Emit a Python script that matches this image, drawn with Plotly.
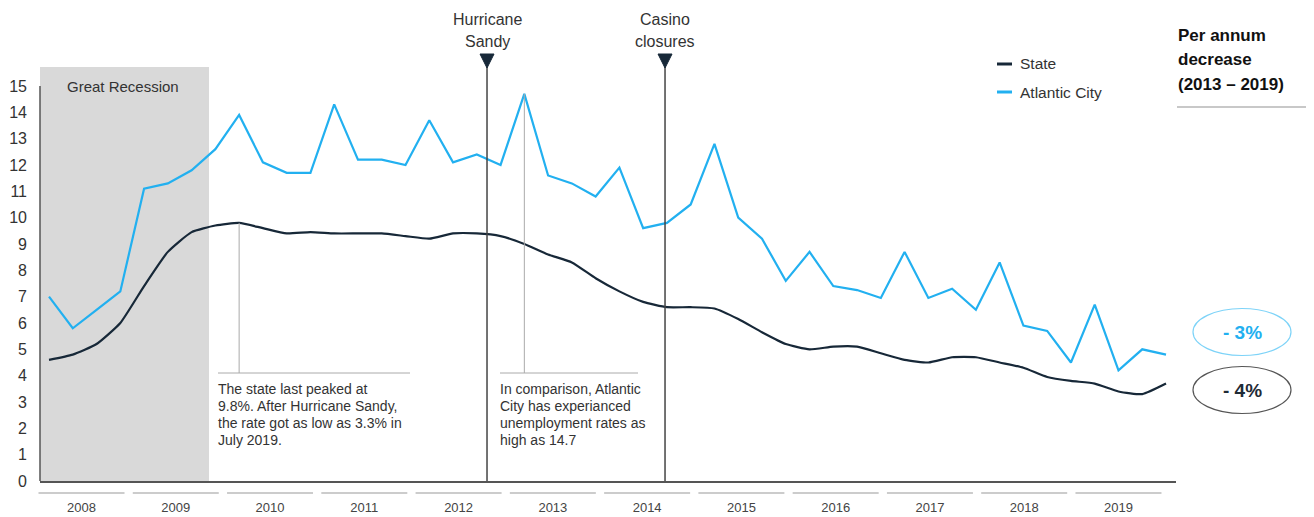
import plotly.graph_objects as go

# ---------------- data ----------------
quarters = list(range(48))  # Q1 2008 ... Q4 2019
years = [str(y) for y in range(2008, 2020)]
state = [4.6, 4.8, 5.2, 6.0, 7.4, 8.7, 9.45, 9.7, 9.8, 9.6, 9.4, 9.45,
         9.4, 9.4, 9.4, 9.3, 9.2, 9.4, 9.4, 9.3, 9.0, 8.6, 8.3, 7.7,
         7.2, 6.8, 6.6, 6.6, 6.55, 6.15, 5.65, 5.2, 5.0, 5.1, 5.1, 4.85,
         4.6, 4.5, 4.7, 4.7, 4.5, 4.3, 3.95, 3.8, 3.7, 3.4, 3.3, 3.7]
atlantic = [7.0, 5.8, 6.5, 7.2, 11.1, 11.3, 11.8, 12.6, 13.9, 12.1, 11.7, 11.7,
            14.3, 12.2, 12.2, 12.0, 13.7, 12.1, 12.4, 12.0, 14.7, 11.6, 11.3, 10.8,
            11.9, 9.6, 9.8, 10.5, 12.8, 10.0, 9.2, 7.6, 8.7, 7.4, 7.25, 6.95,
            8.7, 6.95, 7.3, 6.5, 8.3, 5.9, 5.7, 4.5, 6.7, 4.2, 5.0, 4.8]
y_ticks = list(range(0, 16))
events = [("Hurricane", "Sandy", 18.43), ("Casino", "closures", 25.92)]
callout_state = ["The state last peaked at", "9.8%. After Hurricane Sandy,",
                 "the rate got as low as 3.3% in", "July 2019."]
callout_ac = ["In comparison, Atlantic", "City has experianced",
              "unemployment rates as", "high as 14.7"]
decrease_title = ["Per annum", "decrease", "(2013 – 2019)"]
decrease_ac = "- 3%"
decrease_state = "- 4%"

# ---------------- layout helpers (screen pixels) ----------------
SW, SH = 1314, 517
OFF = 8  # page body margin
L, R, T, B = 40, 1176, 67, 481
XMIN, XMAX = -0.379, 47.42
YMAX = 15.72
FONT = "Liberation Sans, Arial, sans-serif"
NAVY = "#172838"
BLUE = "#22b0f0"
TXT = "#333333"


def pxx(px):
    return (px - L) / (R - L)


def pyy(py):
    return (B - py) / (B - T)


def ix(i):
    return (i - XMIN) / (XMAX - XMIN)


def i_of_px(px):
    return XMIN + (px - L) / (R - L) * (XMAX - XMIN)


def text(t, px, py, size, color=TXT, xanchor="center"):
    return dict(text=t, xref="paper", yref="paper", x=pxx(px), y=pyy(py),
                xanchor=xanchor, yanchor="middle", showarrow=False,
                font=dict(size=size, color=color, family=FONT))


fig = go.Figure()
fig.add_trace(go.Scatter(x=quarters, y=state, mode="lines", name="State",
                         line=dict(color=NAVY, width=2.2, shape="spline", smoothing=0.5),
                         showlegend=False))
fig.add_trace(go.Scatter(x=quarters, y=atlantic, mode="lines", name="Atlantic City",
                         line=dict(color=BLUE, width=2.2), showlegend=False))

shapes = []
ann = []

# recession band
shapes.append(dict(type="rect", xref="x", yref="paper", x0=XMIN, x1=i_of_px(209),
                   y0=0, y1=1, fillcolor="#d9d9d9", line=dict(width=0), layer="below"))
# y axis line
shapes.append(dict(type="line", xref="paper", yref="paper", x0=0, x1=0,
                   y0=0, y1=15 / YMAX, line=dict(color="#555", width=1.5)))
ann.append(text("Great Recession", 123, 86, 15))

# year separators under the axis
year_w = 94.27
for k, yr in enumerate(years):
    c = 81.5 + year_w * k
    shapes.append(dict(type="line", xref="paper", yref="paper",
                       x0=pxx(c - 43), x1=pxx(c + 43), y0=pyy(493), y1=pyy(493),
                       line=dict(color="#bbbbbb", width=1.5)))

# event lines + triangles + labels
for top, bot, pos in events:
    xp = ix(pos)
    cx = L + (R - L) * xp
    shapes.append(dict(type="line", xref="paper", yref="paper", x0=xp, x1=xp,
                       y0=0, y1=pyy(62), line=dict(color="#444", width=1.5)))
    path = f"M {pxx(cx-7)},{pyy(54)} L {pxx(cx+7)},{pyy(54)} L {pxx(cx)},{pyy(68)} Z"
    shapes.append(dict(type="path", xref="paper", yref="paper", path=path,
                       fillcolor=NAVY, line=dict(color=NAVY, width=1)))
    ann.append(text(top, cx, 20, 16))
    ann.append(text(bot, cx, 42, 16))

# callouts
cy = (B - 373) / (B - T) * YMAX
for peak_i, series, x0px, x1px, lines in [(8, state, 218, 410, callout_state),
                                          (20, atlantic, 500, 638, callout_ac)]:
    shapes.append(dict(type="line", xref="x", yref="y", x0=peak_i, x1=peak_i,
                       y0=series[peak_i], y1=cy, line=dict(color="#aaaaaa", width=1)))
    shapes.append(dict(type="line", xref="x", yref="y", x0=i_of_px(x0px), x1=i_of_px(x1px),
                       y0=cy, y1=cy, line=dict(color="#aaaaaa", width=1)))
    for j, t in enumerate(lines):
        ann.append(text(t, x0px - 2, 389 + 17 * j, 14, xanchor="left"))

# custom legend
for j, (name, col) in enumerate([("State", NAVY), ("Atlantic City", BLUE)]):
    yy = 64 + 28 * j
    shapes.append(dict(type="line", xref="paper", yref="paper", x0=pxx(997), x1=pxx(1012),
                       y0=pyy(yy), y1=pyy(yy), line=dict(color=col, width=3)))
    ann.append(text(name, 1018, yy, 15.5, xanchor="left"))

# per annum decrease panel
for j, t in enumerate(decrease_title):
    ann.append(text(f"<b>{t}</b>", 1176, 35 + 25 * j, 17, color="#111", xanchor="left"))
shapes.append(dict(type="line", xref="paper", yref="paper", x0=pxx(1177), x1=pxx(1314),
                   y0=pyy(107), y1=pyy(107), line=dict(color="#c8c8c8", width=2)))
for txt, col, edge, cyp in [(decrease_ac, BLUE, "#7dd3f8", 332),
                            (decrease_state, "#1f2b36", "#555555", 390)]:
    shapes.append(dict(type="circle", xref="paper", yref="paper", x0=pxx(1193), x1=pxx(1291),
                       y0=pyy(cyp + 23.5), y1=pyy(cyp - 23.5), line=dict(color=edge, width=1.2)))
    ann.append(text(f"<b>{txt}</b>", 1243, cyp, 19, color=col))

year_pos = [i_of_px(81.5 + year_w * k) for k in range(len(years))]

fig.update_layout(
    width=SW - OFF, height=SH - OFF,
    margin=dict(l=L - OFF, r=SW - R, t=T - OFF, b=SH - B, pad=0, autoexpand=False),
    plot_bgcolor="white", paper_bgcolor="white",
    shapes=shapes, annotations=ann, showlegend=False,
    xaxis=dict(range=[XMIN, XMAX], showgrid=False, zeroline=False, showline=True,
               linecolor="#555", linewidth=1.5, ticks="", tickvals=year_pos, ticktext=years,
               ticklabelstandoff=14, automargin=False,
               tickfont=dict(size=13, color="#444", family=FONT)),
    yaxis=dict(range=[0, YMAX], showgrid=False, zeroline=False, showline=False,
               tickvals=y_ticks, ticks="", ticklabelstandoff=12, automargin=False,
               tickfont=dict(size=16, color=TXT, family=FONT)),
    font=dict(family=FONT),
)

fig.write_html("out.html")
